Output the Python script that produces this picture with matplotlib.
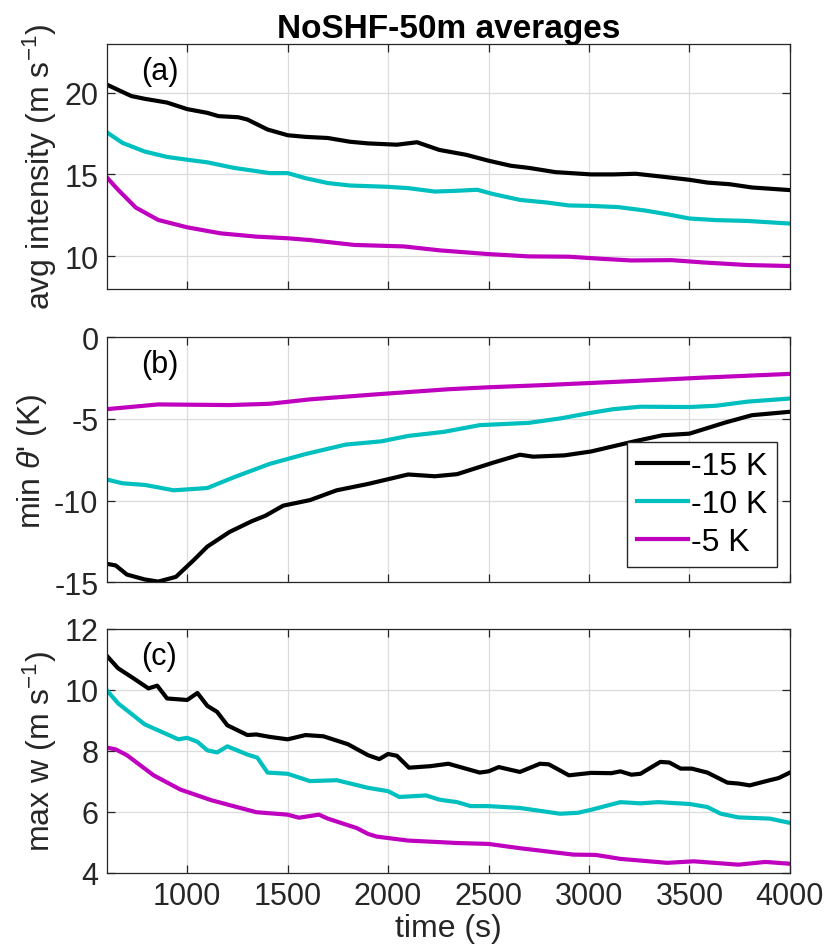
import matplotlib
matplotlib.use("Agg")
import matplotlib.pyplot as plt

plt.rcParams['font.family'] = ['Liberation Sans', 'DejaVu Sans']
plt.rcParams['mathtext.fontset'] = 'custom'
plt.rcParams['mathtext.rm'] = 'Liberation Sans'
plt.rcParams['mathtext.it'] = 'Liberation Sans:italic'
plt.rcParams['axes.unicode_minus'] = False

# (a) avg intensity
t_a_k15 = [600, 722, 789, 900, 1000, 1100, 1156, 1255, 1300, 1400, 1500, 1589, 1700, 1811, 1900,
           2044, 2144, 2255, 2389, 2500, 2611, 2700, 2833, 3011, 3122, 3233, 3366, 3500, 3589,
           3700, 3811, 4000]
a_k15 = [20.5, 19.8, 19.63, 19.4, 19.0, 18.77, 18.57, 18.5, 18.36, 17.75, 17.4, 17.3, 17.23, 17.0,
         16.9, 16.82, 16.97, 16.5, 16.2, 15.84, 15.53, 15.4, 15.14, 15.0, 15.0, 15.04, 14.86, 14.67,
         14.5, 14.4, 14.2, 14.04]
t_a_k10 = [600, 678, 789, 900, 1000, 1100, 1233, 1411, 1500, 1589, 1700, 1811, 2000, 2100, 2233,
           2344, 2444, 2522, 2656, 2789, 2900, 3011, 3144, 3278, 3389, 3500, 3633, 3789, 4000]
a_k10 = [17.58, 16.93, 16.4, 16.07, 15.9, 15.74, 15.4, 15.08, 15.08, 14.77, 14.47, 14.32, 14.24,
         14.16, 13.95, 14.0, 14.06, 13.8, 13.44, 13.28, 13.1, 13.07, 13.0, 12.79, 12.56, 12.3, 12.2,
         12.15, 11.99]
t_a_k5 = [600, 656, 744, 856, 1000, 1167, 1344, 1500, 1611, 1833, 2078, 2167, 2256, 2500, 2700,
          2900, 3078, 3211, 3411, 3567, 3789, 4000]
a_k5 = [14.82, 14.06, 12.97, 12.21, 11.76, 11.39, 11.19, 11.09, 10.98, 10.68, 10.59, 10.47, 10.35,
        10.12, 9.98, 9.96, 9.82, 9.73, 9.75, 9.61, 9.45, 9.39]

# (b) min theta'
t_b_k15 = [600, 644, 700, 789, 856, 944, 1033, 1100, 1211, 1322, 1389, 1478, 1611, 1744, 1900,
           2100, 2233, 2344, 2522, 2656, 2722, 2878, 3011, 3233, 3366, 3500, 3678, 3811, 4000]
b_k15 = [-13.87, -13.97, -14.53, -14.83, -14.96, -14.67, -13.64, -12.82, -11.92, -11.26, -10.93,
         -10.31, -9.97, -9.37, -8.98, -8.40, -8.51, -8.38, -7.68, -7.19, -7.31, -7.23, -6.99,
         -6.35, -6.0, -5.9, -5.22, -4.77, -4.56]
t_b_k10 = [600, 678, 789, 933, 1100, 1233, 1411, 1589, 1789, 1967, 2100, 2278, 2456, 2700, 2856,
           3011, 3122, 3256, 3500, 3633, 3789, 4000]
b_k10 = [-8.71, -8.94, -9.04, -9.37, -9.23, -8.57, -7.75, -7.15, -6.57, -6.37, -6.04, -5.79, -5.38,
         -5.24, -4.97, -4.62, -4.40, -4.25, -4.27, -4.19, -3.94, -3.75]
t_b_k5 = [600, 856, 1211, 1411, 1611, 1944, 2300, 2500, 2789, 3233, 3567, 4000]
b_k5 = [-4.40, -4.11, -4.15, -4.07, -3.80, -3.49, -3.18, -3.06, -2.92, -2.67, -2.47, -2.24]

# (c) max w
t_c_k15 = [600, 656, 733, 807, 851, 900, 1000, 1051, 1100, 1149, 1200, 1300, 1344, 1411, 1500,
           1589, 1678, 1800, 1900, 1956, 2000, 2044, 2104, 2211, 2300, 2456, 2500, 2551, 2656,
           2756, 2800, 2900, 3011, 3111, 3156, 3211, 3256, 3355, 3400, 3456, 3511, 3589, 3689,
           3744, 3800, 3900, 3944, 4000]
c_k15 = [11.12, 10.71, 10.38, 10.05, 10.14, 9.72, 9.67, 9.90, 9.48, 9.28, 8.84, 8.52, 8.54, 8.46,
         8.38, 8.52, 8.48, 8.22, 7.86, 7.73, 7.90, 7.84, 7.45, 7.50, 7.58, 7.29, 7.33, 7.47, 7.31,
         7.58, 7.56, 7.20, 7.28, 7.27, 7.33, 7.22, 7.25, 7.64, 7.62, 7.42, 7.42, 7.29, 6.96, 6.93,
         6.87, 7.04, 7.11, 7.29]
t_c_k10 = [600, 656, 789, 956, 1000, 1051, 1100, 1149, 1200, 1300, 1349, 1400, 1500, 1611, 1744,
           1900, 2000, 2056, 2189, 2256, 2344, 2411, 2500, 2656, 2856, 2944, 3011, 3156, 3256,
           3344, 3500, 3589, 3656, 3744, 3900, 4000]
c_k10 = [9.99, 9.56, 8.87, 8.38, 8.43, 8.30, 8.02, 7.95, 8.15, 7.88, 7.78, 7.29, 7.25, 7.01, 7.04,
         6.79, 6.68, 6.49, 6.54, 6.40, 6.32, 6.19, 6.19, 6.13, 5.94, 5.97, 6.07, 6.32, 6.28, 6.32,
         6.26, 6.16, 5.94, 5.82, 5.78, 5.64]
t_c_k5 = [600, 644, 700, 833, 967, 1122, 1344, 1500, 1556, 1656, 1700, 1844, 1900, 1944, 2100,
          2344, 2500, 2656, 2922, 3033, 3156, 3389, 3522, 3744, 3878, 4000]
c_k5 = [8.11, 8.05, 7.86, 7.20, 6.73, 6.38, 5.99, 5.91, 5.81, 5.91, 5.78, 5.47, 5.28, 5.19, 5.06,
        4.98, 4.95, 4.81, 4.60, 4.59, 4.46, 4.33, 4.38, 4.27, 4.36, 4.30]

labels = ['-15 K', '-10 K', '-5 K']
colors = ['black', (0.0, 0.75, 0.75), (0.75, 0.0, 0.75)]
tick_col = '#262626'
fs = 22

fig = plt.figure(figsize=(8.28, 9.53), dpi=100)
boxes = [[0.129, 0.696, 0.825, 0.257],
         [0.129, 0.388, 0.825, 0.257],
         [0.129, 0.083, 0.825, 0.256]]
axs = [fig.add_axes(b) for b in boxes]

panels = [
    ([t_a_k15, t_a_k10, t_a_k5], [a_k15, a_k10, a_k5], (8, 23), [10, 15, 20],
     'avg intensity (m s$^{-1}$)', '(a)'),
    ([t_b_k15, t_b_k10, t_b_k5], [b_k15, b_k10, b_k5], (-15, 0), [-15, -10, -5, 0],
     "min $\\mathit{\\theta}$' (K)", '(b)'),
    ([t_c_k15, t_c_k10, t_c_k5], [c_k15, c_k10, c_k5], (4, 12), [4, 6, 8, 10, 12],
     'max w (m s$^{-1}$)', '(c)'),
]

for ax, (ts, ys, ylim, yt, ylab, tag) in zip(axs, panels):
    for t, y, c, lab in zip(ts, ys, colors, labels):
        ax.plot(t, y, color=c, lw=3.0, label=lab)
    ax.set_xlim(600, 4000)
    ax.set_ylim(*ylim)
    ax.set_yticks(yt)
    ax.set_xticks(range(1000, 4001, 500))
    ax.grid(True, color='#dcdcdc', lw=0.9)
    ax.set_axisbelow(True)
    ax.tick_params(direction='in', top=True, right=True, length=6, width=0.9,
                   labelsize=fs, colors=tick_col, pad=6)
    for s in ax.spines.values():
        s.set_color(tick_col)
        s.set_linewidth(0.9)
    ax.set_ylabel(ylab, fontsize=fs + 1, color=tick_col, labelpad=4)
    ax.text(0.05, 0.89, tag, transform=ax.transAxes, fontsize=fs, va='center', ha='left')

axs[0].tick_params(labelbottom=False)
axs[1].tick_params(labelbottom=False)
axs[2].set_xlabel('time (s)', fontsize=fs + 1, color=tick_col, labelpad=1)
axs[0].set_title('NoSHF-50m averages', fontsize=24, fontweight='bold', pad=5)

leg = axs[1].legend(loc='lower right', bbox_to_anchor=(0.981, 0.063), fontsize=fs + 1,
                    frameon=True, fancybox=False, edgecolor=tick_col, framealpha=1,
                    handlelength=1.6, handletextpad=0.1, labelspacing=0.25,
                    borderpad=0.3, borderaxespad=0)
leg.get_frame().set_linewidth(1.0)
for txt in leg.get_texts():
    txt.set_color('black')

fig.savefig('out.png', dpi=100)
